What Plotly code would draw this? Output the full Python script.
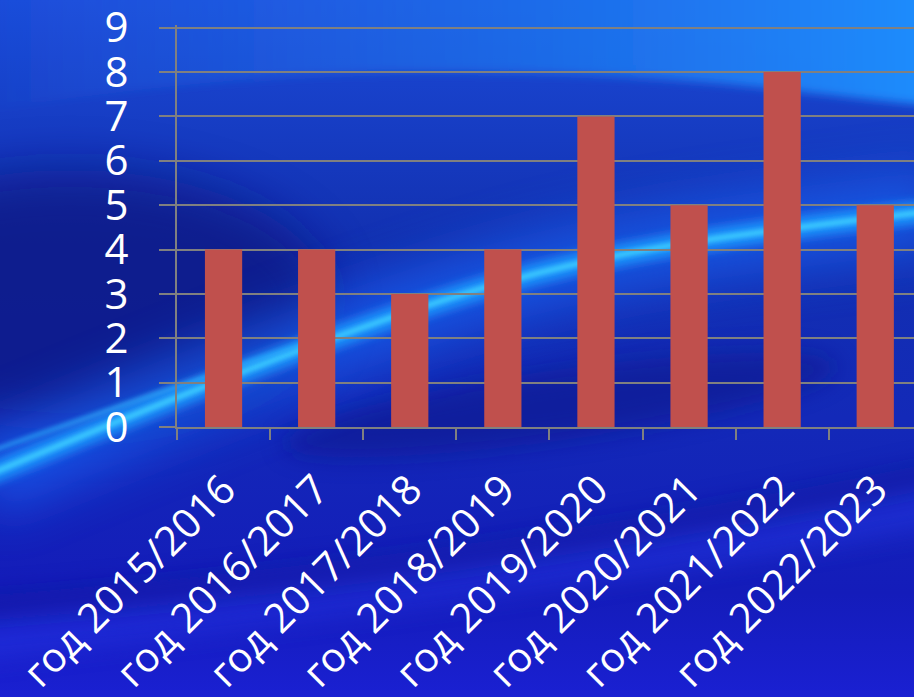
import base64
import plotly.graph_objects as go

categories = ["год 2015/2016", "год 2016/2017", "год 2017/2018", "год 2018/2019",
              "год 2019/2020", "год 2020/2021", "год 2021/2022", "год 2022/2023"]
values = [4, 4, 3, 4, 7, 5, 8, 5]
y_ticks = list(range(0, 10))

W, H = 914, 697
PX_PER_UNIT = 44.33
Y_TOP = 9.06
ML, MR, MB = 177, 0, 270
MT = round(H - MB - Y_TOP * PX_PER_UNIT)

svg = f"""<svg xmlns="http://www.w3.org/2000/svg" width="{W}" height="{H}" viewBox="0 0 {W} {H}">
<defs>
 <linearGradient id="base" x1="0" y1="0" x2="0" y2="1">
  <stop offset="0" stop-color="#1b4ad8"/>
  <stop offset="0.35" stop-color="#1230b0"/>
  <stop offset="0.6" stop-color="#1329b8"/>
  <stop offset="0.85" stop-color="#141cba"/>
  <stop offset="1" stop-color="#1a20d2"/>
 </linearGradient>
 <linearGradient id="top" x1="0" y1="0" x2="1" y2="0">
  <stop offset="0" stop-color="#2a70f0" stop-opacity="0"/>
  <stop offset="0.45" stop-color="#1f78f0" stop-opacity="0.55"/>
  <stop offset="1" stop-color="#1e90ff" stop-opacity="1"/>
 </linearGradient>
 <filter id="b25" x="-50%" y="-50%" width="200%" height="200%"><feGaussianBlur stdDeviation="25"/></filter>
 <filter id="b12" x="-50%" y="-50%" width="200%" height="200%"><feGaussianBlur stdDeviation="12"/></filter>
 <filter id="b5" x="-50%" y="-50%" width="200%" height="200%"><feGaussianBlur stdDeviation="5"/></filter>
 <filter id="b2" x="-50%" y="-50%" width="200%" height="200%"><feGaussianBlur stdDeviation="2"/></filter>
</defs>
<rect width="{W}" height="{H}" fill="url(#base)"/>
<path d="M-40,-40 H960 V108 C820,98 700,70 400,72 C250,74 100,92 -40,115 Z" fill="url(#top)" filter="url(#b5)"/>
<ellipse cx="70" cy="300" rx="260" ry="130" fill="#0a1780" opacity="0.7" filter="url(#b25)"/>
<ellipse cx="560" cy="405" rx="280" ry="35" fill="#0d1488" opacity="0.55" filter="url(#b12)" transform="rotate(-8 560 405)"/>
<path d="M-40,640 C300,600 600,565 960,500" stroke="#2a3cf2" stroke-width="45" fill="none" opacity="0.4" filter="url(#b12)"/>
<path d="M-40,610 C300,585 600,545 960,470" stroke="#0c1492" stroke-width="25" fill="none" opacity="0.5" filter="url(#b12)"/>
<path d="M-20,478 C120,420 300,345 460,295 S760,232 940,210" stroke="#1a6cff" stroke-width="80" fill="none" opacity="0.6" filter="url(#b25)"/>
<path d="M-20,478 C120,420 300,345 460,295 S760,232 940,210" stroke="#1c9cff" stroke-width="22" fill="none" opacity="0.85" filter="url(#b5)"/>
<path d="M-20,478 C120,420 300,345 460,295 S760,232 940,210" stroke="#40d0ff" stroke-width="6" fill="none" opacity="0.85" filter="url(#b2)"/>
<path d="M-20,455 C100,412 220,372 330,335" stroke="#30b8ff" stroke-width="5" fill="none" opacity="0.6" filter="url(#b2)"/>
</svg>"""
bg_uri = "data:image/svg+xml;base64," + base64.b64encode(svg.encode("utf-8")).decode("ascii")

pw = W - ML - MR
ph = H - MT - MB

fig = go.Figure(go.Bar(
    x=categories, y=values, width=0.4,
    marker=dict(color="#C0504D", line=dict(width=0)),
    hoverinfo="x+y",
))

grid = "#808080"
font = "Open Sans, DejaVu Sans, sans-serif"

fig.update_layout(
    width=W, height=H,
    margin=dict(l=ML, r=MR, t=MT, b=MB, pad=0, autoexpand=False),
    paper_bgcolor="#1530b8",
    plot_bgcolor="rgba(0,0,0,0)",
    showlegend=False,
    images=[dict(source=bg_uri, xref="paper", yref="paper",
                 x=-ML / pw, y=1 + MT / ph, sizex=W / pw, sizey=H / ph,
                 xanchor="left", yanchor="top", sizing="stretch", layer="below")],
    xaxis=dict(
        range=[-0.5, -0.5 + pw / 93.1],
        automargin=False,
        tickangle=-45,
        tickfont=dict(family=font, size=41, color="white"),
        showline=True, linecolor=grid, linewidth=2,
        ticks="outside", ticklen=11, tickwidth=2, tickcolor=grid,
        tickson="boundaries", showgrid=False,
        ticklabelstandoff=20,
        ticklabeloverflow="allow",
    ),
    yaxis=dict(
        range=[0, Y_TOP],
        automargin=False,
        tickvals=y_ticks,
        tickfont=dict(family=font, size=42, color="white"),
        showline=True, linecolor=grid, linewidth=2,
        ticks="outside", ticklen=16, tickwidth=2, tickcolor=grid,
        showgrid=True, gridcolor=grid, gridwidth=2,
        zeroline=False,
        ticklabelstandoff=22,
        ticklabeloverflow="allow",
    ),
)

fig.write_html("out.html", config={"displayModeBar": False},
               post_script="document.body.style.margin='0';document.body.style.overflow='hidden';")
